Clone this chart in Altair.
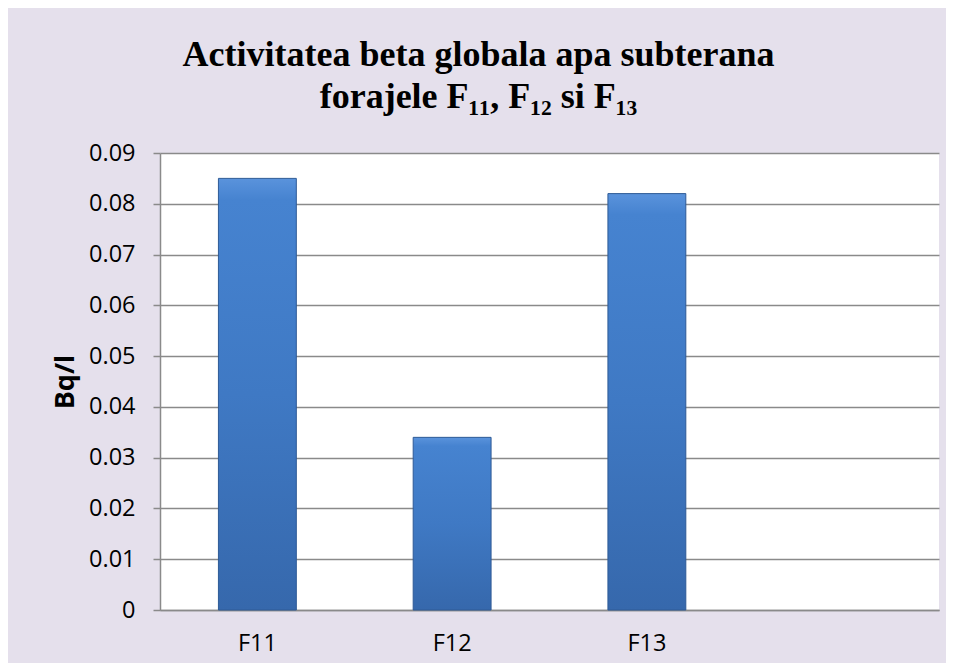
import altair as alt
import pandas as pd

categories = ["F11", "F12", "F13"]
values = [0.085, 0.034, 0.082]
x_domain = ["F11", "F12", "F13", ""]
y_ticks = [0, 0.01, 0.02, 0.03, 0.04, 0.05, 0.06, 0.07, 0.08, 0.09]
title_lines = ["Activitatea beta globala apa subterana", "forajele F\u2081\u2081, F\u2081\u2082 si F\u2081\u2083"]
y_title = "Bq/l"

df = pd.DataFrame({"cat": categories, "val": values})

bar_fill = alt.Gradient(
    gradient="linear",
    x1=0, x2=0, y1=0, y2=1,
    stops=[
        alt.GradientStop(color="#5A93DC", offset=0),
        alt.GradientStop(color="#4683D0", offset=0.05),
        alt.GradientStop(color="#3F79C4", offset=0.5),
        alt.GradientStop(color="#3668AC", offset=1),
    ],
)

chart = (
    alt.Chart(df)
    .mark_bar(fill=bar_fill, stroke="#2E5A96", strokeWidth=1)
    .encode(
        x=alt.X(
            "cat:N",
            scale=alt.Scale(domain=x_domain, paddingInner=0.6, paddingOuter=0.3),
            axis=alt.Axis(
                title=None, labelAngle=0, ticks=False, grid=False,
                labelFont="Open Sans", labelFontSize=23.5, labelColor="#000000",
                labelPadding=21, domainColor="#8A8A8A", domainWidth=1.5,
            ),
        ),
        y=alt.Y(
            "val:Q",
            scale=alt.Scale(domain=[0, 0.09], nice=False, zero=True),
            axis=alt.Axis(
                title=y_title, values=y_ticks,
                labelExpr="datum.value == 0 ? '0' : format(datum.value, '.2f')",
                labelFont="Open Sans", labelFontSize=23.5, labelColor="#000000",
                labelPadding=18, tickSize=7, tickColor="#8A8A8A", tickWidth=1.5,
                domainColor="#8A8A8A", domainWidth=1.5,
                gridColor="#8A8A8A", gridWidth=1.5,
                titleFont="Open Sans", titleFontSize=27, titleFontWeight="bold",
                titleColor="#000000", titleX=-95, titleBaseline="middle",
                titleAngle=-90,
            ),
        ),
    )
    .properties(
        width=779,
        height=457,
        padding={"left": 152, "top": 145, "right": 7, "bottom": 53},
        autosize=alt.AutoSizeParams(type="none"),
        background="#E5E0EC",
        title=alt.TitleParams(
            text=title_lines,
            font="Liberation Serif",
            fontSize=36,
            fontWeight="bold",
            color="#000000",
            lineHeight=42,
            anchor="middle",
            dx=-71,
            offset=25,
        ),
    )
    .configure_view(fill="#FFFFFF", stroke=None)
)

chart.save("out.html", embed_options={"renderer": "svg", "actions": False})
